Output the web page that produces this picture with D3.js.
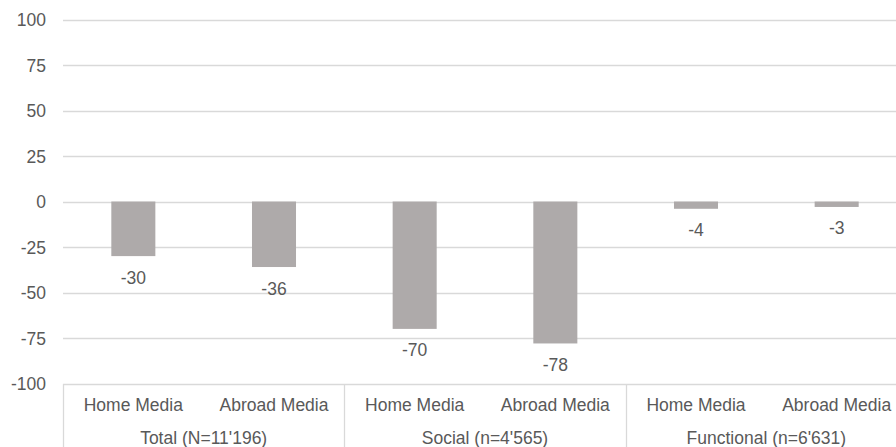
<!DOCTYPE html>
<html>
<head>
<meta charset="utf-8">
<script src="https://cdn.jsdelivr.net/npm/d3@7"></script>
<style>
  html, body { margin: 0; padding: 0; background: #fff; }
  svg { display: block; }
  text { font-family: "Liberation Sans", Arial, sans-serif; fill: #595959; }
</style>
</head>
<body>
<svg id="chart" width="896" height="447"></svg>
<script>
// Net sentiment by media origin, grouped by audience segment
const groups = ["Total (N=11'196)", "Social (n=4'565)", "Functional (n=6'631)"];
const mediaTypes = ["Home Media", "Abroad Media"];
const values = [-30, -36, -70, -78, -4, -3];
const yTicks = [-100, -75, -50, -25, 0, 25, 50, 75, 100];

const W = 896, H = 447;
const plotLeft = 63, plotRight = 907, plotTop = 19.5, plotBottom = 383.5;
const fontSize = 17.5;
// plain hyphen-minus for negative numbers
const fmt = d => String(d);

const svg = d3.select("#chart");

// one row per bar: group + media type + value
const rows = [];
groups.forEach((g, gi) => mediaTypes.forEach((m, mi) => {
  rows.push({ key: gi + "|" + m, group: g, media: m, value: values[gi * mediaTypes.length + mi] });
}));

const x = d3.scaleBand()
  .domain(rows.map(r => r.key))
  .range([plotLeft, plotRight])
  .paddingInner(0.687)
  .paddingOuter(0.3435);

const y = d3.scaleLinear().domain([-100, 100]).range([plotBottom, plotTop]);

// horizontal gridlines
svg.append("g")
  .selectAll("line")
  .data(yTicks)
  .join("line")
  .attr("x1", plotLeft).attr("x2", W)
  .attr("y1", d => Math.round(y(d)) + 0.5)
  .attr("y2", d => Math.round(y(d)) + 0.5)
  .attr("stroke", "#d9d9d9")
  .attr("stroke-width", 1.3);

// y tick labels
const yAxis = svg.append("g")
  .attr("transform", "translate(46,0)")
  .call(d3.axisLeft(y).tickValues(yTicks).tickSize(0).tickPadding(0).tickFormat(fmt));
yAxis.select(".domain").remove();
yAxis.selectAll("text")
  .attr("font-size", fontSize)
  .attr("font-family", "Liberation Sans, Arial, sans-serif")
  .attr("fill", "#595959")
  .attr("dy", "0.36em");

// bars
svg.append("g")
  .selectAll("rect")
  .data(rows)
  .join("rect")
  .attr("x", d => x(d.key))
  .attr("width", x.bandwidth())
  .attr("y", d => y(Math.max(0, d.value)))
  .attr("height", d => Math.abs(y(d.value) - y(0)))
  .attr("fill", "#aeaaaa");

// value labels under each bar end
svg.append("g")
  .selectAll("text")
  .data(rows)
  .join("text")
  .attr("x", d => x(d.key) + x.bandwidth() / 2)
  .attr("y", d => y(d.value) + 27.5)
  .attr("text-anchor", "middle")
  .attr("font-size", fontSize)
  .text(d => fmt(d.value));

// category axis: media labels, group labels and separators
const axisG = svg.append("g");
axisG.selectAll("text.media")
  .data(rows)
  .join("text")
  .attr("class", "media")
  .attr("x", d => x(d.key) + x.bandwidth() / 2)
  .attr("y", 411)
  .attr("text-anchor", "middle")
  .attr("font-size", fontSize)
  .text(d => d.media);

const step = x.step();
const groupSpan = step * mediaTypes.length;
axisG.selectAll("text.group")
  .data(groups)
  .join("text")
  .attr("class", "group")
  .attr("x", (d, i) => plotLeft + groupSpan * i + groupSpan / 2)
  .attr("y", 444)
  .attr("text-anchor", "middle")
  .attr("font-size", fontSize)
  .text(d => d);

axisG.selectAll("line.sep")
  .data(d3.range(groups.length))
  .join("line")
  .attr("class", "sep")
  .attr("x1", i => Math.round(plotLeft + groupSpan * i) + 0.5)
  .attr("x2", i => Math.round(plotLeft + groupSpan * i) + 0.5)
  .attr("y1", Math.round(y(-100)))
  .attr("y2", H)
  .attr("stroke", "#d9d9d9")
  .attr("stroke-width", 1.3);
</script>
</body>
</html>
